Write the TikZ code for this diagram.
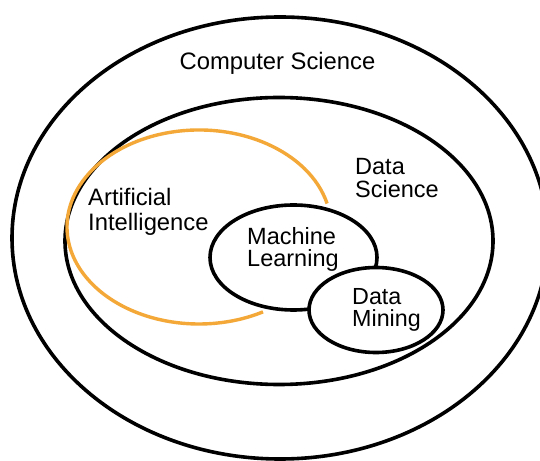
\documentclass[tikz,border=0pt]{standalone}
\usepackage{fontspec}
\setmainfont{Liberation Sans}
\definecolor{aiorange}{RGB}{243,168,56}
\begin{document}
\begin{tikzpicture}[x=1pt,y=1pt,
  ring/.style={draw=black,line width=3.6pt},
  lbl/.style={inner sep=0pt,anchor=base west,align=left}]
\useasboundingbox (0,0) rectangle (540,460);
\clip (0,0) rectangle (540,460);
\fill[white] (0,0) rectangle (540,460);
% Computer Science
\draw[ring] (280,222) ellipse [x radius=268, y radius=221];
% Data Science
\draw[ring] (279,219) ellipse [x radius=214, y radius=143.5];
% Artificial Intelligence (open orange arc)
\draw[draw=aiorange,line width=3.4pt] (199,233) ++(14:132 and 97) arc[start angle=14, end angle=299, x radius=132, y radius=97];
% Machine Learning
\draw[ring,fill=white] (293.5,202.5) ellipse [x radius=83.5, y radius=52.5];
% Data Mining
\draw[ring,fill=white] (376,150) ellipse [x radius=67, y radius=42.5];
% labels
\node[inner sep=0pt,anchor=base,font=\fontsize{23.8}{24}\selectfont] (cs) at (277.5,390) {Computer Science};
\node[lbl,font=\fontsize{23.5}{23}\selectfont] (ds) at (355,262) {Data\\Science};
\node[lbl,font=\fontsize{23.8}{25}\selectfont] (ai) at (88,229) {Artificial\\Intelligence};
\node[lbl,font=\fontsize{23.5}{22}\selectfont] (ml) at (247,193) {Machine\\Learning};
\node[lbl,font=\fontsize{23.3}{22}\selectfont] (dm) at (352,133) {Data\\Mining};
\end{tikzpicture}
\end{document}
